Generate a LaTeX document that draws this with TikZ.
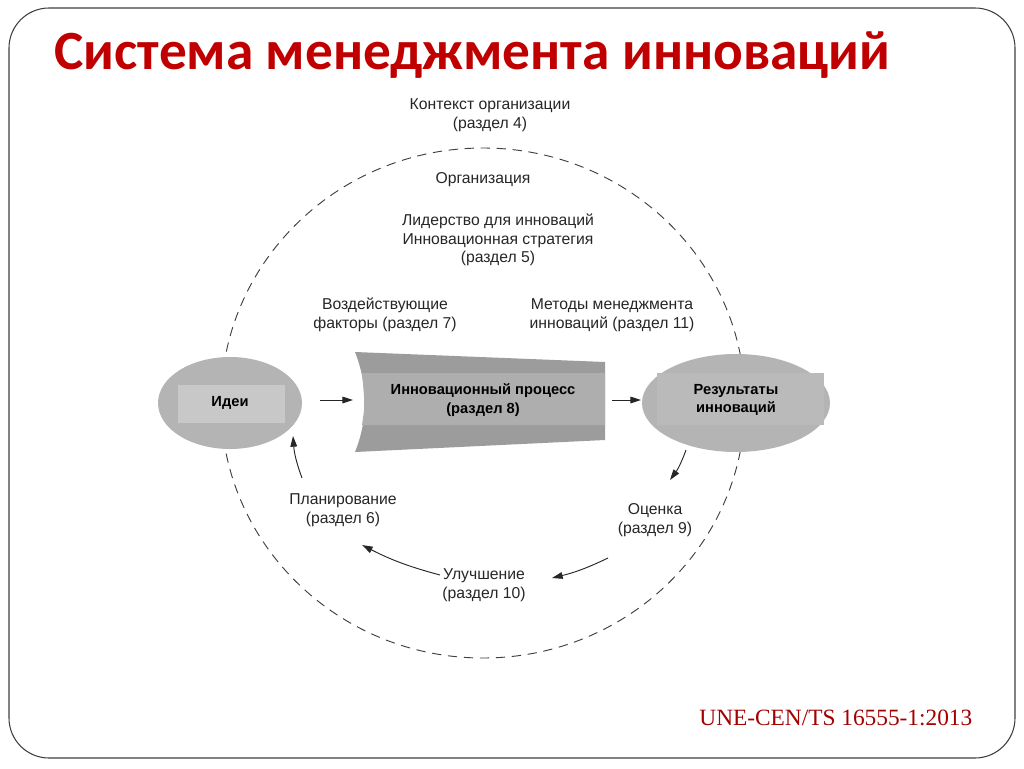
\documentclass[tikz,border=0pt]{standalone}
\usepackage{fontspec}
\setmainfont{Liberation Sans}
\newfontfamily\titlefont{Carlito}
\newfontfamily\reffont{Liberation Serif}
\usetikzlibrary{arrows.meta}
\definecolor{tred}{HTML}{C00000}
\definecolor{g1}{HTML}{B4B4B4}
\definecolor{g2}{HTML}{C8C8C8}
\definecolor{g3}{HTML}{9C9C9C}
\definecolor{g4}{HTML}{AEAEAE}
\tikzset{lbl/.style={font=\fontsize{11.8}{14}\selectfont, align=center, text=black!85},
 arr/.style={-{Triangle[length=8pt,width=5pt]}, line width=0.7pt, black!85},
 bold/.style={font=\bfseries\fontsize{11}{14}\selectfont, align=center}}
\begin{document}
\begin{tikzpicture}[x=0.75pt,y=-0.75pt]
\useasboundingbox (0,0) rectangle (1024,768);
\fill[white] (0,0) rectangle (1024,768);
\draw[black!75, line width=0.8pt, rounded corners=30pt] (9,8) rectangle (1015,758);
\node[anchor=west, text=tred, font=\titlefont\bfseries\fontsize{41.5}{48}\selectfont] (title) at (50,55) {Система менеджмента инноваций};
\node[anchor=east, text=tred!85!black, font=\reffont\fontsize{17.5}{20}\selectfont] (ref) at (977,718) {UNE-CEN/TS 16555-1:2013};
% big dashed circle
\draw[dashed, dash pattern=on 7pt off 5pt, black!75, line width=0.7pt] (483,403) ellipse [x radius=262, y radius=255];
% ideas
\fill[g1] (230,403) ellipse [x radius=72, y radius=46];
\fill[g2] (178,385) rectangle (285,423);
\node[bold] (idei) at (230,403) {Идеи};
% process
\fill[g3] (355,352) -- (605,362) -- (605,440) -- (355,452) .. controls (368,420) and (368,385) .. cycle;
\fill[g4] (362,373) -- (605,373) -- (605,425) -- (362,425) .. controls (365,405) .. cycle;
\node[bold] (proc) at (483,400) {Инновационный процесс\\(раздел 8)};
% results
\fill[g1] (736,403) ellipse [x radius=94, y radius=49];
\fill[g4!85!white] (657,373) rectangle (824,425);
\node[bold] (res) at (736,400) {Результаты\\инноваций};
\coordinate (a1s) at (320,400); \coordinate (a1e) at (353,400);
\coordinate (a2s) at (612,400); \coordinate (a2e) at (641,400);
\draw[arr] (a1s) -- (a1e);
\draw[arr] (a2s) -- (a2e);
% labels
\node[lbl] (ctx) at (490,115) {Контекст организации\\(раздел 4)};
\node[lbl] (org) at (483,180) {Организация};
\node[lbl] (lead) at (498,240) {Лидерство для инноваций\\Инновационная стратегия\\(раздел 5)};
\node[lbl] (fact) at (385,315) {Воздействующие\\факторы (раздел 7)};
\node[lbl] (meth) at (612,315) {Методы менеджмента\\инноваций (раздел 11)};
\node[lbl] (ocen) at (655,520) {Оценка\\(раздел 9)};
\node[lbl] (upr) at (484,585) {Улучшение\\(раздел 10)};
\node[lbl] (plan) at (343,510) {Планирование\\(раздел 6)};
% cycle arrows
\coordinate (c1s) at (686,450); \coordinate (c1e) at (670,480);
\coordinate (c2s) at (608,558); \coordinate (c2e) at (552,578);
\coordinate (c3s) at (440,575); \coordinate (c3e) at (362,545);
\coordinate (c4s) at (302,478); \coordinate (c4e) at (293,436);
\draw[arr] (c1s) to[bend left=8] (c1e);
\draw[arr] (c2s) to[bend left=6] (c2e);
\draw[arr] (c3s) to[bend left=6] (c3e);
\draw[arr] (c4s) to[bend left=8] (c4e);
\end{tikzpicture}
\end{document}
